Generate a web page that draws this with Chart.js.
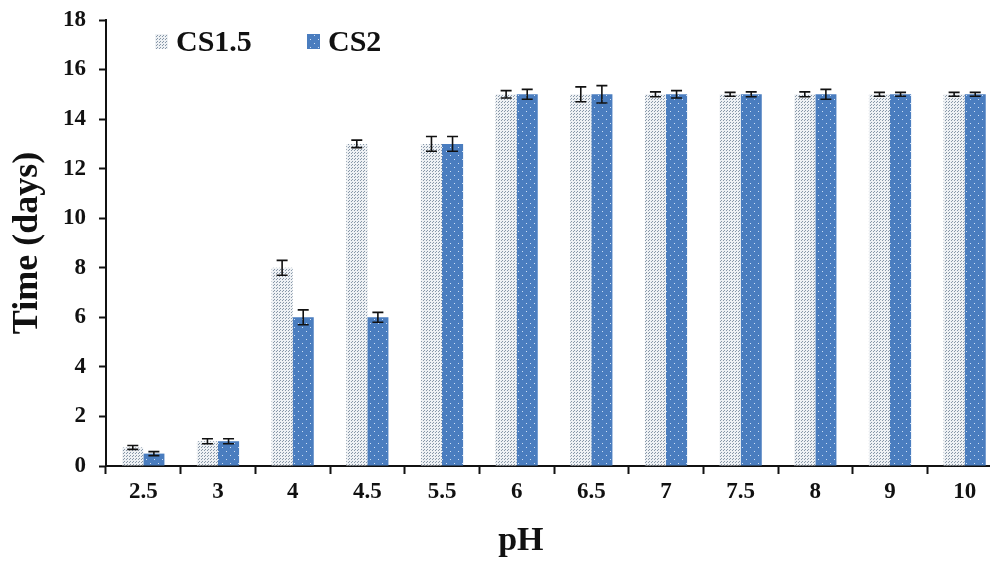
<!DOCTYPE html>
<html><head><meta charset="utf-8">
<script src="https://cdn.jsdelivr.net/npm/chart.js@4"></script>
<style>html,body{margin:0;padding:0;background:#fff;overflow:hidden}#wrap{width:1002px;height:564px}</style>
</head><body><div id="wrap"><canvas id="c" width="1002" height="564"></canvas></div>
<script>
const categories = ['2.5','3','4','4.5','5.5','6','6.5','7','7.5','8','9','10'];
const cs15Values = [0.75, 1.0, 8.0, 13.0, 13.0, 15.0, 15.0, 15.0, 15.0, 15.0, 15.0, 15.0];
const cs15Errors = [0.08, 0.1, 0.3, 0.15, 0.3, 0.15, 0.3, 0.1, 0.08, 0.1, 0.08, 0.08];
const cs2Values = [0.5, 1.0, 6.0, 6.0, 13.0, 15.0, 15.0, 15.0, 15.0, 15.0, 15.0, 15.0];
const cs2Errors = [0.08, 0.1, 0.3, 0.2, 0.3, 0.2, 0.35, 0.15, 0.1, 0.2, 0.08, 0.08];
const yTicks = [0,2,4,6,8,10,12,14,16,18];
const xTitle = 'pH';
const yTitle = 'Time (days)';

const FONT = '"Liberation Serif", "Times New Roman", serif';

function makePattern(bg, dot, step, dots) {
  const c = document.createElement('canvas');
  c.width = step; c.height = step;
  const x = c.getContext('2d');
  x.fillStyle = bg; x.fillRect(0,0,step,step);
  x.fillStyle = dot;
  dots.forEach(d => x.fillRect(d[0], d[1], 1, 1));
  return x.createPattern(c, 'repeat');
}
const ctx = document.getElementById('c').getContext('2d');
const pat15 = makePattern('#eef1f4', '#8797a8', 3, [[0,0],[1,2]]);
const pat2 = makePattern('#4a7dbf', '#cfe0f5', 8, [[2,3],[6,7]]);

const errors = [cs15Errors, cs2Errors];

const errorBarPlugin = {
  id: 'errbars',
  afterDatasetsDraw(chart) {
    const c = chart.ctx, y = chart.scales.y;
    c.save();
    c.strokeStyle = '#111';
    c.lineWidth = 1.6;
    chart.data.datasets.forEach((ds, i) => {
      const meta = chart.getDatasetMeta(i);
      meta.data.forEach((bar, j) => {
        const v = ds.data[j], e = errors[i][j];
        const x = bar.x;
        const y1 = y.getPixelForValue(v + e), y2 = y.getPixelForValue(v - e);
        c.beginPath();
        c.moveTo(x, y1); c.lineTo(x, y2);
        c.moveTo(x - 5.5, y1); c.lineTo(x + 5.5, y1);
        c.moveTo(x - 5.5, y2); c.lineTo(x + 5.5, y2);
        c.stroke();
      });
    });
    c.restore();
  }
};

const legendPlugin = {
  id: 'customLegend',
  afterDraw(chart) {
    const c = chart.ctx;
    const positions = [155, 307];
    c.save();
    c.font = 'bold 30px ' + FONT;
    c.textBaseline = 'middle';
    chart.data.datasets.forEach((ds, i) => {
      const x = positions[i], yy = 42;
      c.fillStyle = ds.backgroundColor;
      c.fillRect(x, yy - 8, 13, 15);
      c.fillStyle = '#111';
      c.fillText(ds.label, x + 21, yy + 1);
    });
    c.restore();
  }
};

const xTitlePlugin = {
  id: 'xTitle',
  afterDraw(chart) {
    const c = chart.ctx, a = chart.chartArea;
    c.save();
    c.font = 'bold 34px ' + FONT;
    c.fillStyle = '#111';
    c.textAlign = 'center';
    c.textBaseline = 'alphabetic';
    c.fillText(xTitle, a.left + (a.right - a.left) * 0.463, 550);
    c.restore();
  }
};

new Chart(ctx, {
  type: 'bar',
  data: {
    labels: categories,
    datasets: [
      { label: 'CS1.5', data: cs15Values, backgroundColor: pat15, borderWidth: 0 },
      { label: 'CS2', data: cs2Values, backgroundColor: pat2, borderWidth: 0 }
    ]
  },
  options: {
    responsive: false,
    animation: false,
    devicePixelRatio: 1,
    layout: { padding: { top: 20, right: 0, left: 0, bottom: 0 } },
    datasets: { bar: { categoryPercentage: 0.565, barPercentage: 1.0 } },
    plugins: { legend: { display: false }, tooltip: { enabled: false } },
    scales: {
      x: {
        grid: { display: true, drawOnChartArea: false, offset: true, color: '#111', tickLength: 8, tickWidth: 2 },
        border: { display: true, color: '#111', width: 2 },
        ticks: { color: '#111', font: { family: FONT, size: 23, weight: 'bold' }, padding: 4, maxRotation: 0 },
        afterFit(s) { s.height = 98; s.paddingLeft = 0; s.paddingRight = 0; }
      },
      y: {
        min: 0, max: 18,
        afterBuildTicks(s) { s.ticks = yTicks.map(v => ({ value: v })); },
        grid: { display: true, drawOnChartArea: false, color: '#111', tickLength: 7, tickWidth: 2 },
        border: { display: true, color: '#111', width: 2 },
        ticks: { color: '#111', font: { family: FONT, size: 23, weight: 'bold' }, padding: 13 },
        title: { display: true, text: yTitle, color: '#111', font: { family: FONT, size: 36, weight: 'bold' }, padding: { top: 6, bottom: 8 } },
        afterFit(s) { s.width = 106; s.paddingTop = 0; s.paddingBottom = 0; }
      }
    }
  },
  plugins: [errorBarPlugin, legendPlugin, xTitlePlugin]
});
</script>
</body></html>
